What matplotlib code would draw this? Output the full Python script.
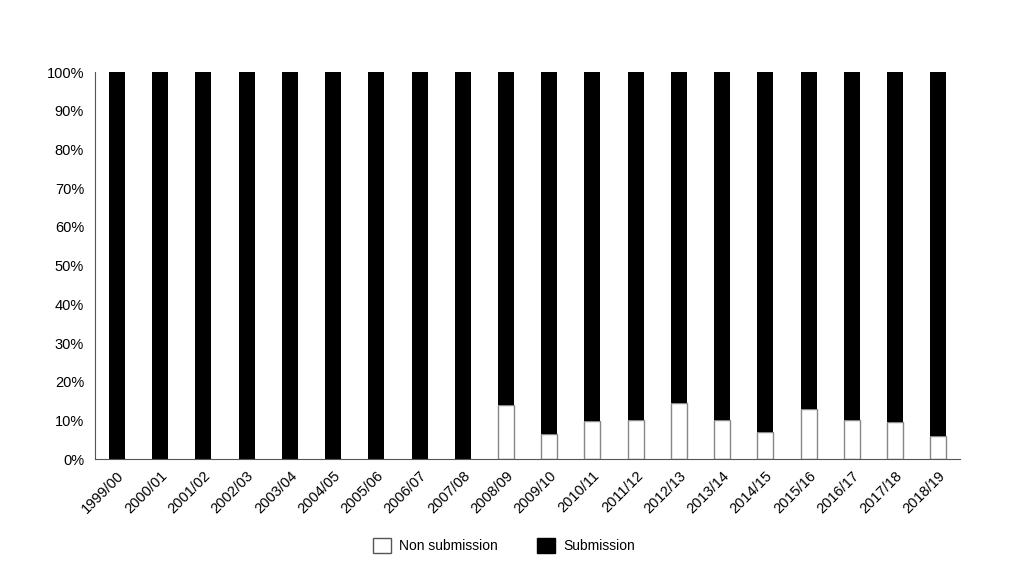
import matplotlib.pyplot as plt
from matplotlib.patches import Patch
from matplotlib.ticker import PercentFormatter

plt.rcParams['font.family'] = ['Liberation Sans', 'DejaVu Sans']

years = ['1999/00', '2000/01', '2001/02', '2002/03', '2003/04', '2004/05',
         '2005/06', '2006/07', '2007/08', '2008/09', '2009/10', '2010/11',
         '2011/12', '2012/13', '2013/14', '2014/15', '2015/16', '2016/17',
         '2017/18', '2018/19']
non_submission = [0, 0, 0, 0, 0, 0, 0, 0, 0, 14.0, 6.5, 9.8, 10.2, 14.6,
                  10.2, 7.1, 12.9, 10.0, 9.7, 5.9]
submission = [100 - v for v in non_submission]

fig = plt.figure(figsize=(10.24, 5.82), dpi=100)
ax = fig.add_axes([0.093, 0.211, 0.8445, 0.665])

x = range(len(years))
w = 0.37
ax.bar(x, non_submission, w, color='white', edgecolor='#888888', linewidth=1)
ax.bar(x, submission, w, bottom=non_submission, color='black', edgecolor='black', linewidth=0)

ax.set_xlim(-0.5, len(years) - 0.5)
ax.set_ylim(0, 100)
ax.set_yticks(range(0, 101, 10))
ax.yaxis.set_major_formatter(PercentFormatter(decimals=0))
ax.set_xticks(list(x))
ax.set_xticklabels(years, rotation=45, ha='right', rotation_mode='anchor')
ax.tick_params(length=0, labelsize=10.5)
ax.tick_params(axis='y', pad=8)
ax.tick_params(axis='x', pad=7)
for s in ['top', 'right']:
    ax.spines[s].set_visible(False)
for s in ['left', 'bottom']:
    ax.spines[s].set_color('#555555')

handles = [Patch(facecolor='white', edgecolor='#555555', label='Non submission'),
           Patch(facecolor='black', edgecolor='black', label='Submission')]
fig.legend(handles=handles, loc='center', bbox_to_anchor=(0.492, 0.063), ncol=2,
           frameon=False, fontsize=10, handlelength=1.3, handleheight=1.3,
           handletextpad=0.6, columnspacing=2.8)

fig.savefig('out.png', dpi=100)
